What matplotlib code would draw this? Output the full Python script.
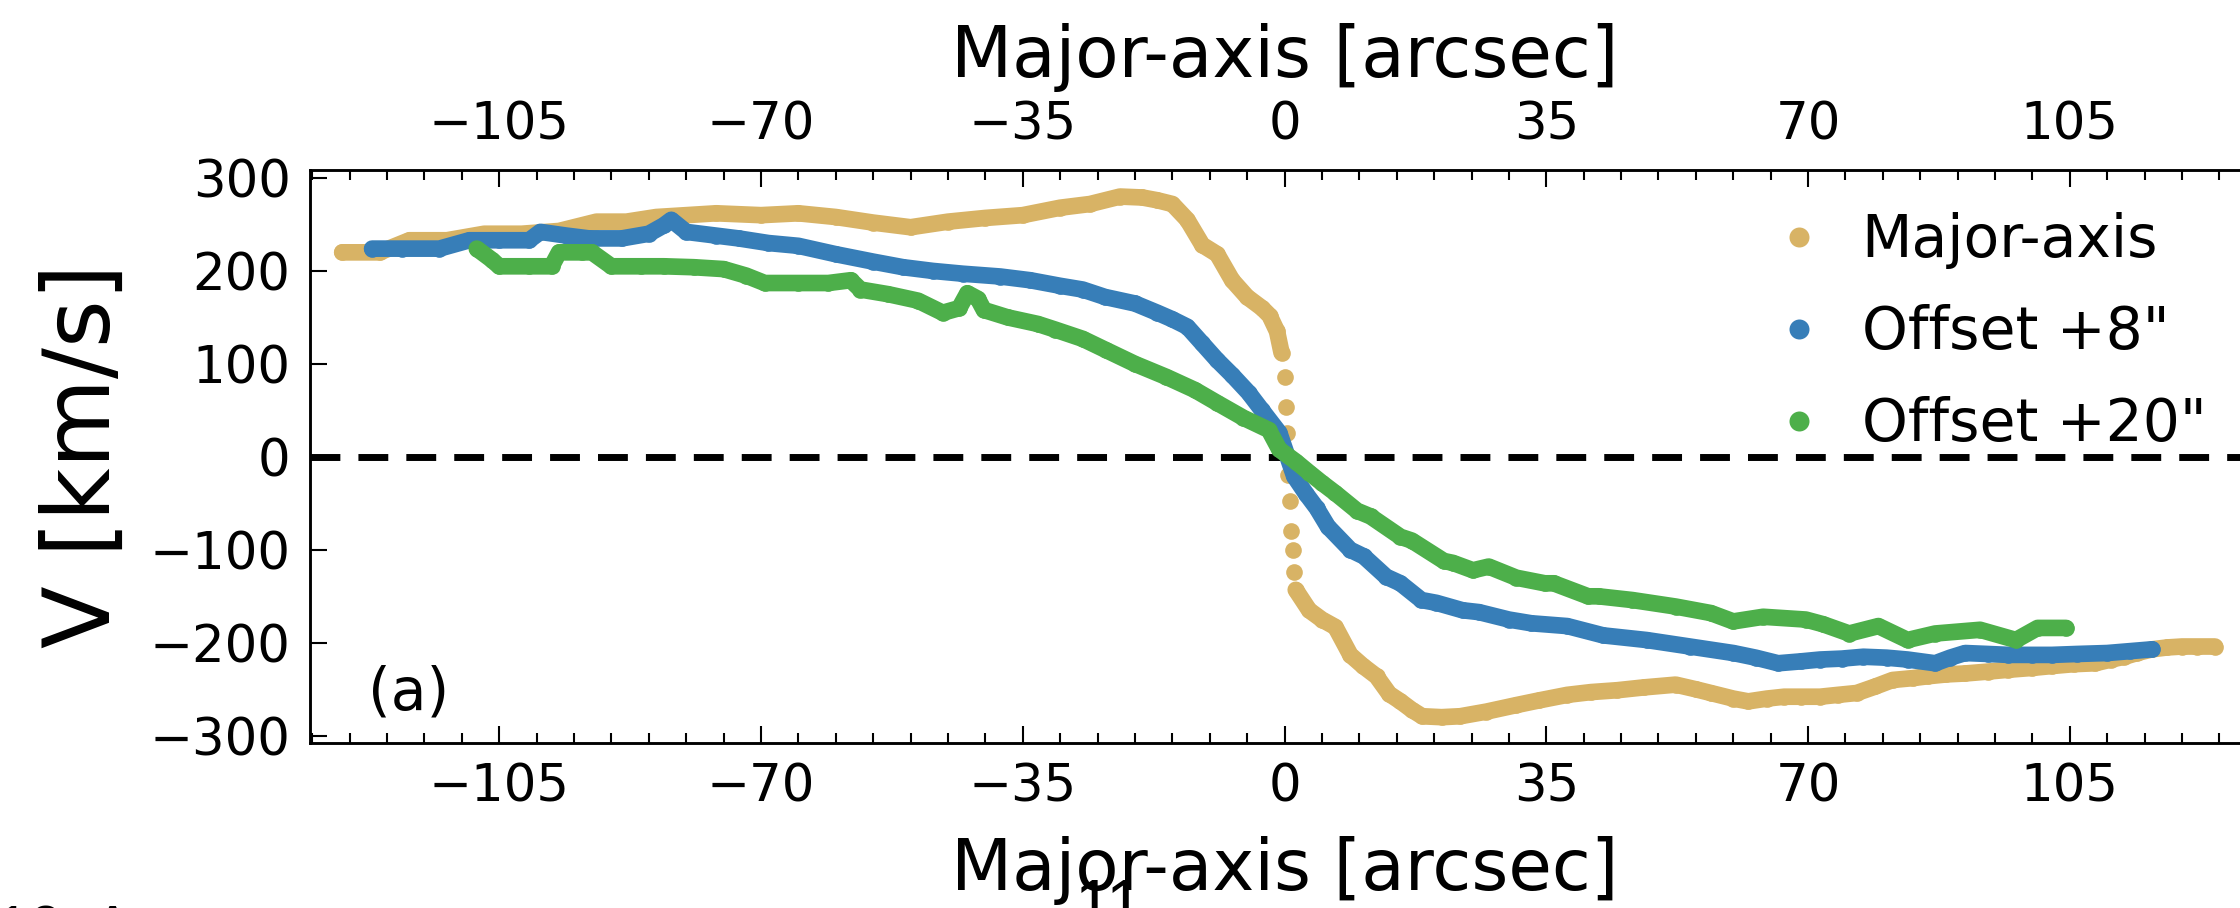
import matplotlib
matplotlib.use("Agg")
import matplotlib.pyplot as plt
from matplotlib.ticker import MultipleLocator

# Major-axis curve, split round the steep centre where the points come apart
maj_x_left = [-126, -121, -117, -112, -107, -102, -97, -92, -88, -84,
              -80, -76, -70, -65, -60, -55, -50, -45, -40, -35,
              -30, -26, -22, -19, -17, -15, -13, -11, -9, -7,
              -5, -3, -2, -1, -0.4]
maj_v_left = [220, 220, 233, 233, 240, 240, 243, 253, 253, 258,
              260, 262, 260, 262, 258, 252, 247, 253, 257, 260,
              268, 272, 280, 279, 276, 272, 255, 228, 218, 190,
              172, 160, 152, 135, 112]
maj_x_mid = [0.0, 0.15, 0.3, 0.5, 0.7, 0.9, 1.1, 1.3]
maj_v_mid = [86, 54, 26, -20, -48, -80, -100, -124]
maj_x_right = [1.5, 3.3, 5, 6.8, 8.8, 10.5, 12.3, 14, 15.5, 17,
               18.4, 21, 23.5, 27, 31, 34, 37.8, 41, 44.5, 48,
               52.3, 55, 57, 60, 62, 64.5, 66.8, 69, 71.6, 74,
               76.5, 79, 81.3, 84, 86, 88.5, 91, 94, 96.8, 100,
               102.6, 105.5, 108.4, 110.5, 112.3, 114, 116, 118, 120, 122,
               124.4]
maj_v_right = [-143, -165, -175, -183, -213, -225, -236, -255, -263, -272,
               -279, -280, -279, -274, -267, -262, -256, -253, -251, -248,
               -245, -250, -254, -260, -263, -260, -258, -258, -258, -256,
               -254, -247, -240, -238, -236, -234, -233, -231, -229, -227,
               -225, -223, -222, -218, -215, -211, -207, -205, -204, -204,
               -204]

# offset +8"
off8_x = [-122, -118, -113, -109, -105, -101, -99.5, -96, -93, -88.6,
          -85, -83, -82, -80, -76, -73, -69, -65, -60, -55,
          -51, -47, -43, -38, -34, -30, -27, -24, -20, -17,
          -15, -13, -11, -9, -7, -4.8, -3, -0.7, 1.3, 2.9,
          4.3, 5.8, 8.8, 10.6, 13.6, 15.5, 18.3, 20.3, 23.8, 26,
          30, 33, 37.8, 42.6, 48.4, 54.2, 60, 63, 66, 69,
          71.6, 74.5, 77.4, 80.5, 83.3, 87, 89, 91, 94, 96.8,
          100, 102.6, 106, 110, 113, 116]
off8_v = [224, 224, 224, 233, 233, 233, 242, 238, 235, 235,
          240, 249, 255, 242, 238, 235, 230, 227, 218, 210,
          204, 200, 197, 194, 190, 184, 180, 172, 165, 155,
          148, 140, 122, 104, 88, 69, 50, 26, -21, -40,
          -55, -75, -100, -107, -129, -136, -154, -157, -165, -167,
          -175, -179, -182, -192, -197, -204, -211, -216, -222, -220,
          -218, -217, -215, -216, -218, -222, -216, -211, -212, -213,
          -213, -213, -212, -211, -209, -207]

# offset +20"
off20_x = [-108, -106, -105, -101, -98, -97, -94, -92.6, -90, -86,
           -83, -79, -75, -72, -69.5, -65, -61, -58, -56.7, -53,
           -49, -45.7, -43.5, -42.4, -41, -40.2, -37, -33, -30.7, -27,
           -23.9, -20, -15.8, -12, -9, -5.5, -2.1, -0.7, 1.5, 3.3,
           5, 6.8, 9.7, 11.5, 15.5, 17, 21.3, 22.5, 25.2, 27.3,
           31, 34.8, 36, 40.6, 42, 46.5, 52.3, 57, 60, 64,
           69.7, 72, 75.5, 79.4, 83.3, 87, 93, 97.8, 100.7, 104.5]
off20_v = [224, 212, 205, 205, 205, 220, 220, 220, 205, 205,
           205, 204, 202, 195, 187, 187, 187, 190, 180, 175,
           168, 155, 160, 176, 170, 158, 150, 143, 137, 127,
           115, 100, 86, 72, 58, 42, 29, 8, -5, -17,
           -28, -39, -58, -64, -86, -90, -112, -114, -122, -118,
           -130, -136, -136, -150, -150, -154, -161, -168, -177, -172,
           -175, -180, -190, -182, -197, -190, -186, -197, -184, -184]

xticks = [-105, -70, -35, 0, 35, 70, 105]
yticks = [-300, -200, -100, 0, 100, 200, 300]
labels = ["Major-axis", 'Offset +8"', 'Offset +20"']
colors = ["#d8b365", "#377eb8", "#4daf4a"]

plt.rcParams['font.family'] = ['DejaVu Sans']
fig = plt.figure(figsize=(22.4, 9.08), dpi=100)
# the axes run off the right edge, as in the cropped page
ax = fig.add_axes([0.1384, 0.1820, 0.8701, 0.6308])

ax.axhline(0, color='k', lw=5, ls=(0, (4.3, 2.6)), zorder=1)

lw = 12
ms = 12
line_kw = dict(lw=lw, solid_capstyle='round', solid_joinstyle='round')
ax.plot(maj_x_left, maj_v_left, '-', color=colors[0], zorder=2, **line_kw)
ax.plot(maj_x_right, maj_v_right, '-', color=colors[0], zorder=2, **line_kw)
ax.plot(maj_x_left + maj_x_mid + maj_x_right, maj_v_left + maj_v_mid + maj_v_right,
        'o', ms=ms, mec='none', color=colors[0], zorder=2, label=labels[0])
ax.plot(off8_x, off8_v, '-', color=colors[1], zorder=3, **line_kw)
ax.plot(off8_x, off8_v, 'o', ms=ms, mec='none', color=colors[1], zorder=3, label=labels[1])
ax.plot(off20_x, off20_v, '-', color=colors[2], zorder=4, **line_kw)
ax.plot(off20_x, off20_v, 'o', ms=ms, mec='none', color=colors[2], zorder=4, label=labels[2])

ax.set_xlim(-130.3, 130.3)
ax.set_ylim(-307.5, 308.6)
ax.set_xticks(xticks)
ax.set_yticks(yticks)
ax.xaxis.set_minor_locator(MultipleLocator(5))

ax2 = ax.twiny()
ax2.set_xlim(ax.get_xlim())
ax2.set_xticks(xticks)
ax2.xaxis.set_minor_locator(MultipleLocator(5))

for a in (ax, ax2):
    a.tick_params(which='major', direction='in', length=12.5, width=1.5, pad=14, labelsize=37)
    a.tick_params(which='minor', direction='in', length=7, width=1.5)
    for sp in a.spines.values():
        sp.set_linewidth(1.8)
ax.tick_params(axis='x', top=False, which='both')
ax.tick_params(axis='y', right=True)

ax.text(-122.6, -272, '(a)', fontsize=42, va='baseline', ha='left')

ax.legend(loc='upper left', bbox_to_anchor=(1770 / 2240, 1 - 212 / 908),
          bbox_transform=fig.transFigure, frameon=False, numpoints=1,
          markerscale=1.2, fontsize=42, handlelength=1.0, handletextpad=0.57,
          labelspacing=0.6, borderpad=0, borderaxespad=0)

fig.text(1285 / 2240, 1 - 77 / 908, 'Major-axis [arcsec]', fontsize=51,
         ha='center', va='baseline')
fig.text(1285 / 2240, 1 - 890 / 908, 'Major-axis [arcsec]', fontsize=51,
         ha='center', va='baseline')
fig.text(110 / 2240, 0.4978, 'V [km/s]', fontsize=66, rotation=90,
         rotation_mode='anchor', ha='center', va='baseline')

# bits of the page round the figure, mostly cut off
fig.text(-190 / 2240, -39 / 908, 'Figure 10. Apparent', fontsize=43,
         family='Liberation Sans', va='baseline')
fig.text(1075 / 2240, -18 / 908, '11', fontsize=48,
         family='Liberation Sans', va='baseline')

fig.savefig('out.png', dpi=100)
